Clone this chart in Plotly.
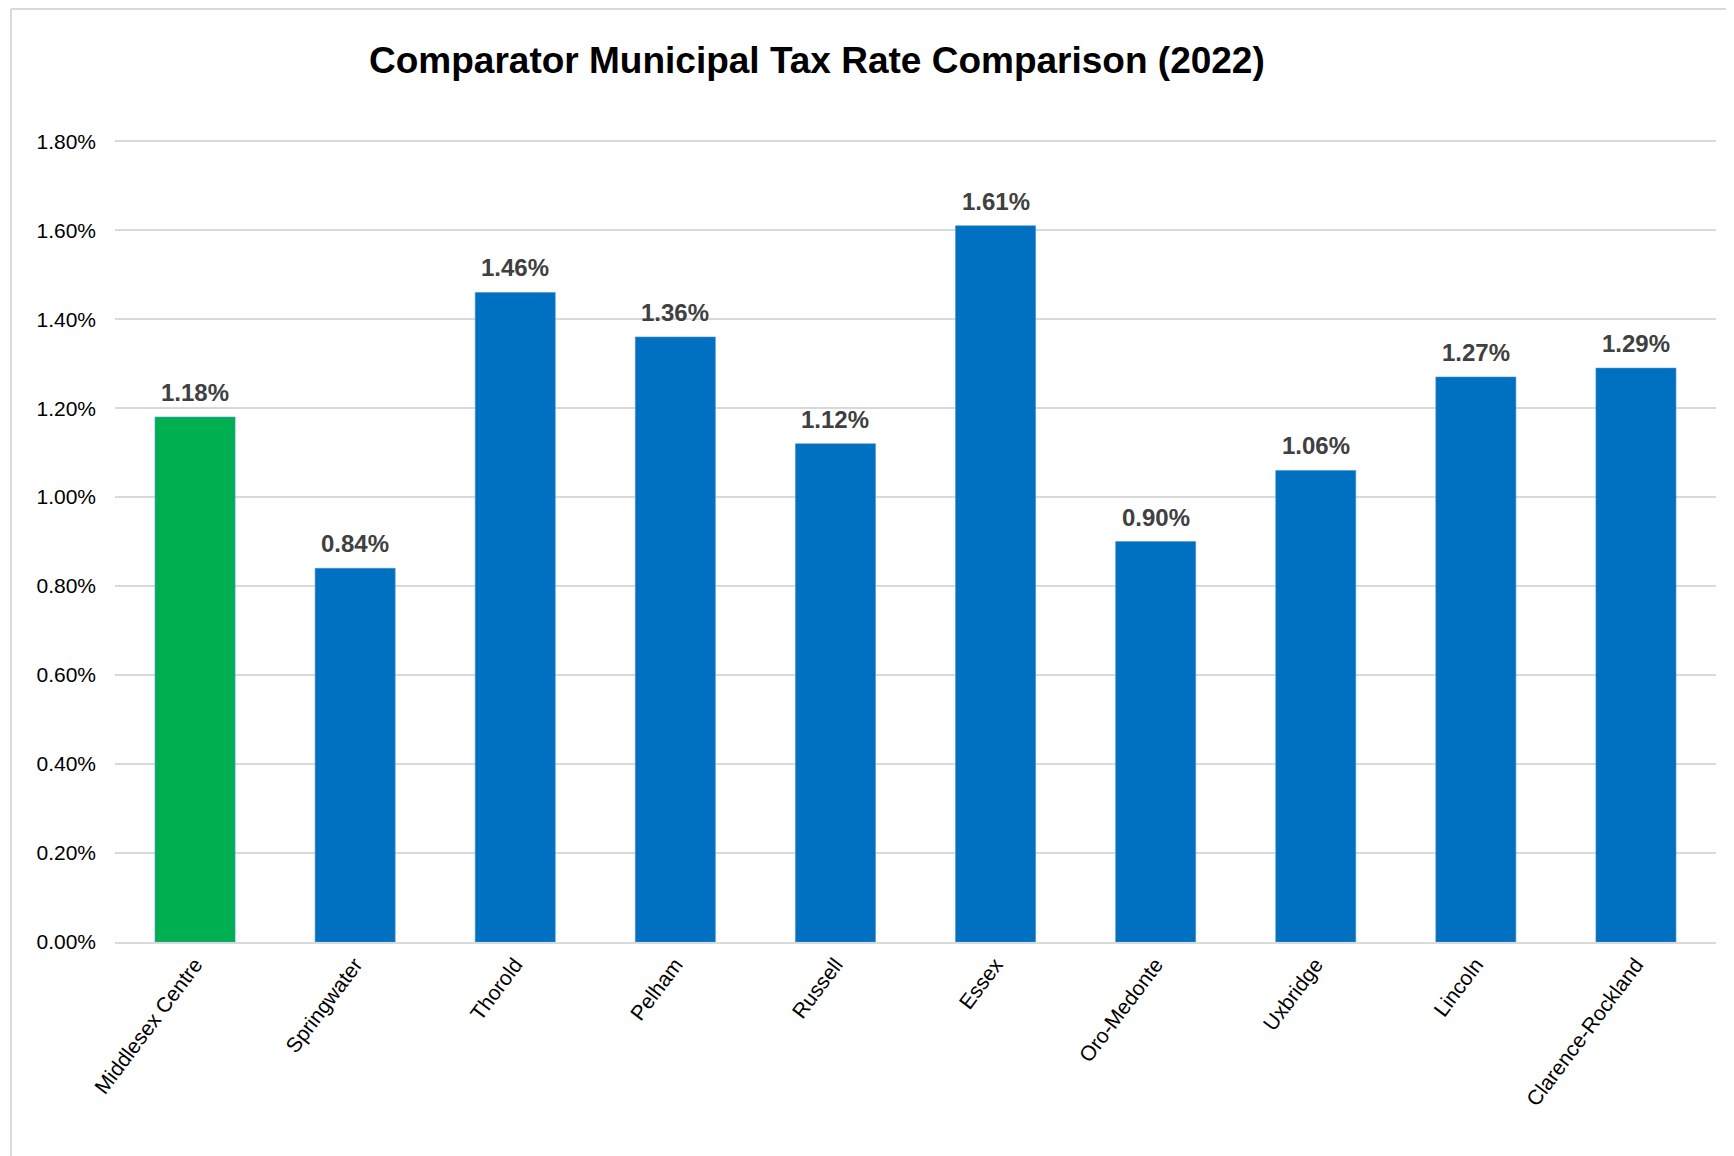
import plotly.graph_objects as go

# Colours
verde = '#00B050'
azul = '#0070C0'
grade = '#D9D9D9'

# Data
municipios = ['Middlesex Centre', 'Springwater', 'Thorold', 'Pelham', 'Russell',
              'Essex', 'Oro-Medonte', 'Uxbridge', 'Lincoln', 'Clarence-Rockland']
taxa = [0.0118, 0.0084, 0.0146, 0.0136, 0.0112, 0.0161, 0.0090, 0.0106, 0.0127, 0.0129]
yticks = [0, 0.002, 0.004, 0.006, 0.008, 0.010, 0.012, 0.014, 0.016, 0.018]

cores = [verde] + [azul] * (len(municipios) - 1)

fig = go.Figure()

fig.add_trace(go.Bar(
    x=municipios,
    y=taxa,
    marker=dict(color=cores, line=dict(color='#4A90D0', width=0.6)),
    cliponaxis=False,
))

# Data labels above each bar
for m, v in zip(municipios, taxa):
    fig.add_annotation(
        x=m, y=v, text=f'<b>{v:.2%}</b>',
        showarrow=False, yanchor='bottom', yshift=9,
        font=dict(family='Arial, Liberation Sans', size=24, color='#404040'),
    )

fig.update_layout(
    width=1734,
    height=1156,
    title=dict(
        text='<b>Comparator Municipal Tax Rate Comparison (2022)</b>',
        x=0.4665, xanchor='center',
        y=0.955, yanchor='middle',
        font=dict(family='Arial, Liberation Sans', size=37, color='black'),
    ),
    font=dict(family='Arial, Liberation Sans', color='black'),
    plot_bgcolor='white',
    paper_bgcolor='white',
    bargap=0.5,
    showlegend=False,
    margin=dict(l=107, r=26, t=131, b=222),
    xaxis=dict(
        tickangle=-53,
        tickfont=dict(size=21),
        showgrid=False,
        showline=True,
        linecolor=grade,
        linewidth=2,
        ticks='',
    ),
    yaxis=dict(
        range=[0, 0.01805],
        tickvals=yticks,
        tickformat='.2%',
        tickfont=dict(size=21),
        showgrid=True,
        gridcolor=grade,
        gridwidth=1.5,
        zeroline=False,
        ticks='',
        ticklabelstandoff=18,
    ),
    shapes=[
        # chart frame (top and left edges)
        dict(type='line', xref='paper', yref='paper', x0=-0.065, x1=1.03, y0=1.162, y1=1.162,
             line=dict(color=grade, width=2)),
        dict(type='line', xref='paper', yref='paper', x0=-0.065, x1=-0.065, y0=1.162, y1=-0.3,
             line=dict(color=grade, width=2)),
    ],
)

fig.write_html('out.html')
